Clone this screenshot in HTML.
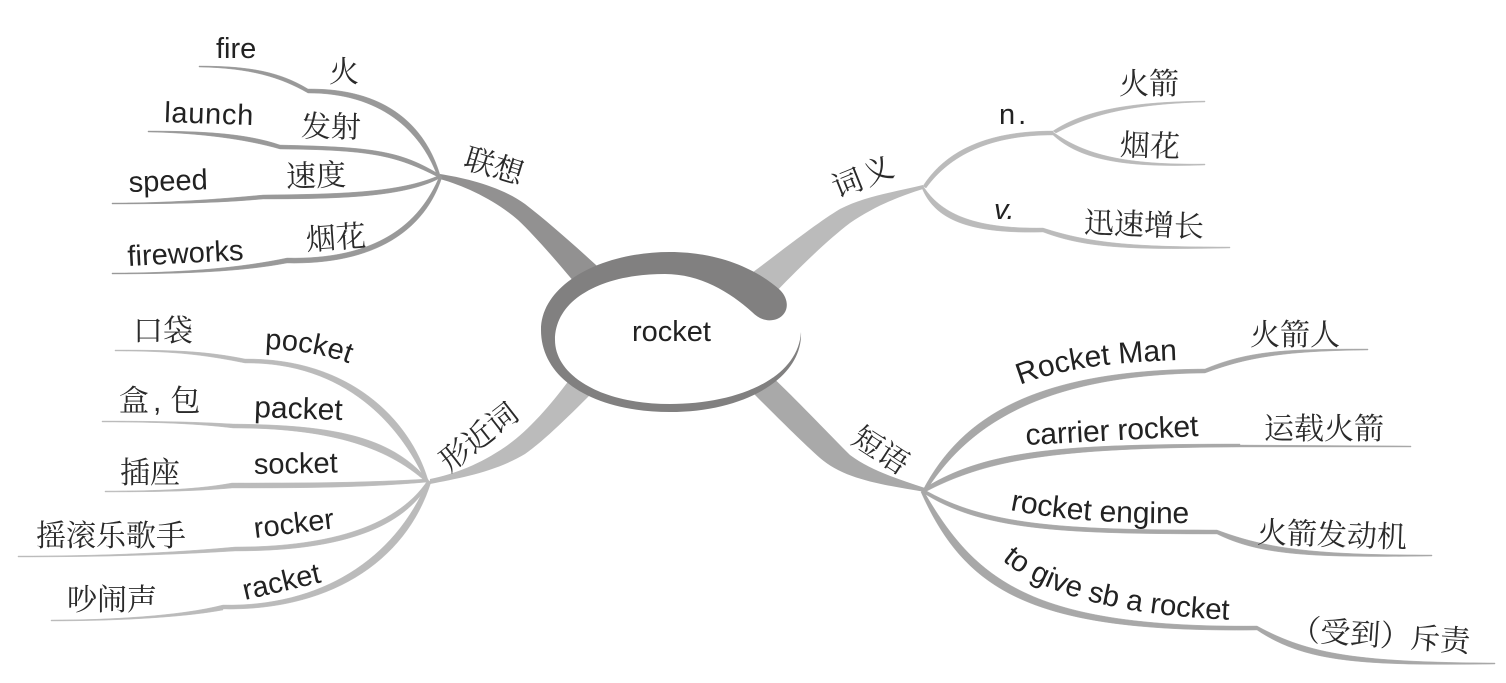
<!DOCTYPE html>
<html><head><meta charset="utf-8"><style>
html,body{margin:0;padding:0;background:#fff}
svg{display:block}
.e{font-family:"Liberation Sans",sans-serif;font-size:29px;fill:#222}
.l{font-size:30px}
.c{font-family:"Liberation Serif","Noto Serif CJK SC",serif;font-size:30px;fill:#2a2a2a}
.a path{fill:#999;stroke:#999;stroke-width:.4;stroke-linejoin:round}
.b path{fill:#bbb;stroke:#bbb;stroke-width:.4;stroke-linejoin:round}
.d path{fill:#a8a8a8;stroke:#a8a8a8;stroke-width:.4;stroke-linejoin:round}
</style></head><body>
<svg width="1506" height="683" viewBox="0 0 1506 683" xmlns="http://www.w3.org/2000/svg">
<defs>
<path id="tpPocket" d="M265 349 C295 350 330 354 360 368"/>
<path id="tpGive" d="M1002 560 C1040 592 1110 615 1235 620"/>
<path id="tpMan" d="M1020 385 C1063 368 1113 362 1183 360"/>
<path id="tpEngine" d="M1010 510 C1060 520 1120 524 1192 523"/>
</defs>
<!-- main trunks -->
<path fill="#929191" d="M440 174 C465 178 500 186 525 204 C552 225 580 250 610 278 L585 295 C560 265 537 238 518 220 C495 200 465 186 440 179Z"/>
<path fill="#bbbbbb" d="M923 185 C895 192 865 196 840 209 C815 224 775 256 745 278 L770 298 C795 272 825 242 850 223 C875 206 900 196 923 189Z"/>
<path fill="#bbbbbb" d="M430 479 C455 474 480 464 505 447 C530 430 555 400 575 372 L597 388 C570 415 545 440 525 454 C495 472 460 478 430 484Z"/>
<path fill="#a9a9a9" d="M925 488 C895 478 870 470 850 455 C825 430 795 398 765 370 L745 385 C775 415 800 440 820 458 C845 480 885 485 925 492Z"/>
<!-- inner white mask -->
<path fill="#fff" d="M801 332 C798 380 735 404 670 404 C600 404 555 375 555 340 C555 300 600 274 665 274 C700 274 730 292 752 312 Z"/>
<!-- center ring -->
<path fill="#818080" d="M801 332 C803 378 745 412 670 412 C595 412 541 380 541 330 C541 285 600 252 670 252 C720 252 758 270 780 290 C790 300 789 314 777 319 C768 322 760 320 752 312 C730 292 700 274 665 274 C600 274 555 300 555 340 C555 375 600 404 670 404 C735 404 798 380 801 332Z"/>
<!-- 联想 -->
<g class="a">
<path d="M199 66 C250 66 280 72 308 89 L308 93 C280 77 250 68 199 67Z"/>
<path d="M440 175 C425 125 385 88 308 89 L308 93 C380 93 420 130 437 175Z"/>
<path d="M148 131 C200 131 245 133 280 145 L280 149 C245 139 200 133 148 132Z"/>
<path d="M440 175 C400 150 370 147 280 145 L280 149 C370 150 395 155 438 177Z"/>
<path d="M112 203 C170 203 220 199 263 195 L263 199 C220 203 170 204 112 204Z"/>
<path d="M440 175 C400 193 340 194 263 195 L263 199 C340 199 405 197 440 178Z"/>
<path d="M112 273 C180 273 240 268 287 258 L287 263 C240 272 180 274 112 274Z"/>
<path d="M440 175 C420 225 375 260 287 258 L287 263 C375 265 425 230 442 177Z"/>
</g>
<!-- 词义 -->
<g class="b">
<path d="M923 186 C945 152 985 131 1053 131 L1053 135 C990 135 950 155 926 188Z"/>
<path d="M1053 131 C1085 110 1130 102 1205 101 L1205 102 C1130 104 1090 115 1056 133Z"/>
<path d="M1053 132 C1085 155 1125 165 1205 164 L1205 165 C1125 168 1080 160 1053 135Z"/>
<path d="M923 186 C940 212 970 229 1043 228 L1043 232 C970 234 935 220 922 188Z"/>
<path d="M1043 228 C1090 243 1130 247 1230 247 L1230 248 C1130 250 1085 248 1043 232Z"/>
</g>
<!-- 形近词 -->
<g class="b">
<path d="M115 350 C175 350 205 351 245 359 L245 363 C205 355 175 351 115 351Z"/>
<path d="M428 480 C410 420 350 358 245 359 L245 363 C345 362 400 425 425 480Z"/>
<path d="M102 421 C160 421 200 422 233 424 L233 428 C200 424 160 422 102 422Z"/>
<path d="M428 480 C390 435 330 425 233 424 L233 428 C325 428 385 445 426 482Z"/>
<path d="M105 491 C160 491 200 489 232 483 L232 488 C200 491 160 492 105 492Z"/>
<path d="M428 479 C360 483 300 483 232 483 L232 488 C300 488 360 488 428 482Z"/>
<path d="M18 556 C100 556 170 553 235 547 L235 551 C170 555 100 557 18 557Z"/>
<path d="M428 480 C395 530 320 547 235 547 L235 551 C325 551 400 535 430 482Z"/>
<path d="M51 620 C110 620 180 616 223 605 L223 610 C180 618 110 621 51 621Z"/>
<path d="M428 480 C395 560 320 607 223 605 L223 609 C325 611 405 565 431 482Z"/>
</g>
<!-- 短语 -->
<g class="d">
<path d="M923 490 C960 420 1030 370 1205 369 L1205 373 C1035 375 965 430 926 491Z"/>
<path d="M1205 369 C1250 350 1290 349 1368 349 L1368 350 C1290 351 1250 356 1205 373Z"/>
<path d="M923 489 C985 450 1060 444 1240 444 L1240 447 C1060 448 990 458 925 492Z"/>
<path d="M1240 445 L1411 446 L1411 447 L1240 447Z"/>
<path d="M923 489 C985 525 1060 530 1217 530 L1217 534 C1060 534 980 530 922 492Z"/>
<path d="M1217 530 C1265 548 1310 555 1432 555 L1432 556 C1310 558 1260 555 1217 534Z"/>
<path d="M923 490 C975 580 1030 628 1257 626 L1257 630 C1030 633 965 590 921 492Z"/>
<path d="M1257 626 C1310 655 1360 662 1495 663 L1495 664 C1360 666 1305 662 1257 630Z"/>
</g>
<!-- center label -->
<text class="e" x="632" y="341">rocket</text>
<!-- 联想 labels -->
<text class="c" transform="translate(491 176) rotate(17)" text-anchor="middle">联想</text>
<text class="e" x="216" y="58">fire</text>
<text class="c" x="329" y="82">火</text>
<text class="e" transform="translate(164 122) rotate(2)" textLength="89">launch</text>
<text class="c" x="301" y="137" transform="rotate(1 330 125)">发射</text>
<text class="e" transform="translate(129 192) rotate(-2)">speed</text>
<text class="c" x="286" y="186" transform="rotate(-2 315 175)">速度</text>
<text class="e" transform="translate(128 266) rotate(-3)">fireworks</text>
<text class="c" x="306" y="248" transform="rotate(-4 336 238)">烟花</text>
<!-- 词义 labels -->
<text class="c" transform="translate(868 186) rotate(-22)" text-anchor="middle" letter-spacing="3">词义</text>
<text class="e" x="999" y="124" letter-spacing="3">n.</text>
<text class="e" x="994" y="219" font-style="italic">v.</text>
<text class="c" x="1119" y="94">火箭</text>
<text class="c" x="1120" y="156" transform="rotate(2 1150 145)">烟花</text>
<text class="c" x="1084" y="235" transform="rotate(2 1143 225)">迅速增长</text>
<!-- 形近词 labels -->
<text class="c" transform="translate(485 445) rotate(-38)" text-anchor="middle">形近词</text>
<text class="c" x="133" y="341">口袋</text>
<text class="e"><textPath href="#tpPocket">pocket</textPath></text>
<text class="c" x="119" y="411">盒<tspan font-family="Liberation Sans" dx="4">,</tspan><tspan dx="9">包</tspan></text>
<text class="e l" transform="translate(254 417) rotate(2)">packet</text>
<text class="c" x="120" y="483">插座</text>
<text class="e" transform="translate(254 474) rotate(-1)">socket</text>
<text class="c" x="36" y="546">摇滚乐歌手</text>
<text class="e" transform="translate(255 538) rotate(-7)">rocker</text>
<text class="c" x="67" y="610">吵闹声</text>
<text class="e" transform="translate(245 600) rotate(-13)">racket</text>
<!-- 短语 labels -->
<text class="c" transform="translate(875 459) rotate(33)" text-anchor="middle">短语</text>
<text class="e l"><textPath href="#tpMan">Rocket Man</textPath></text>
<text class="c" x="1250" y="345">火箭人</text>
<text class="e l" transform="translate(1026 445) rotate(-3)" textLength="173">carrier rocket</text>
<text class="c" x="1264" y="439">运载火箭</text>
<text class="e l"><textPath href="#tpEngine">rocket engine</textPath></text>
<text class="c" x="1257" y="545" transform="rotate(2 1330 535)">火箭发动机</text>
<text class="e" style="font-size:29.4px"><textPath href="#tpGive">to give sb a rocket</textPath></text>
<text class="c" x="1290" y="646" transform="rotate(4 1385 640)">（受到）斥责</text>
</svg>
</body></html>
